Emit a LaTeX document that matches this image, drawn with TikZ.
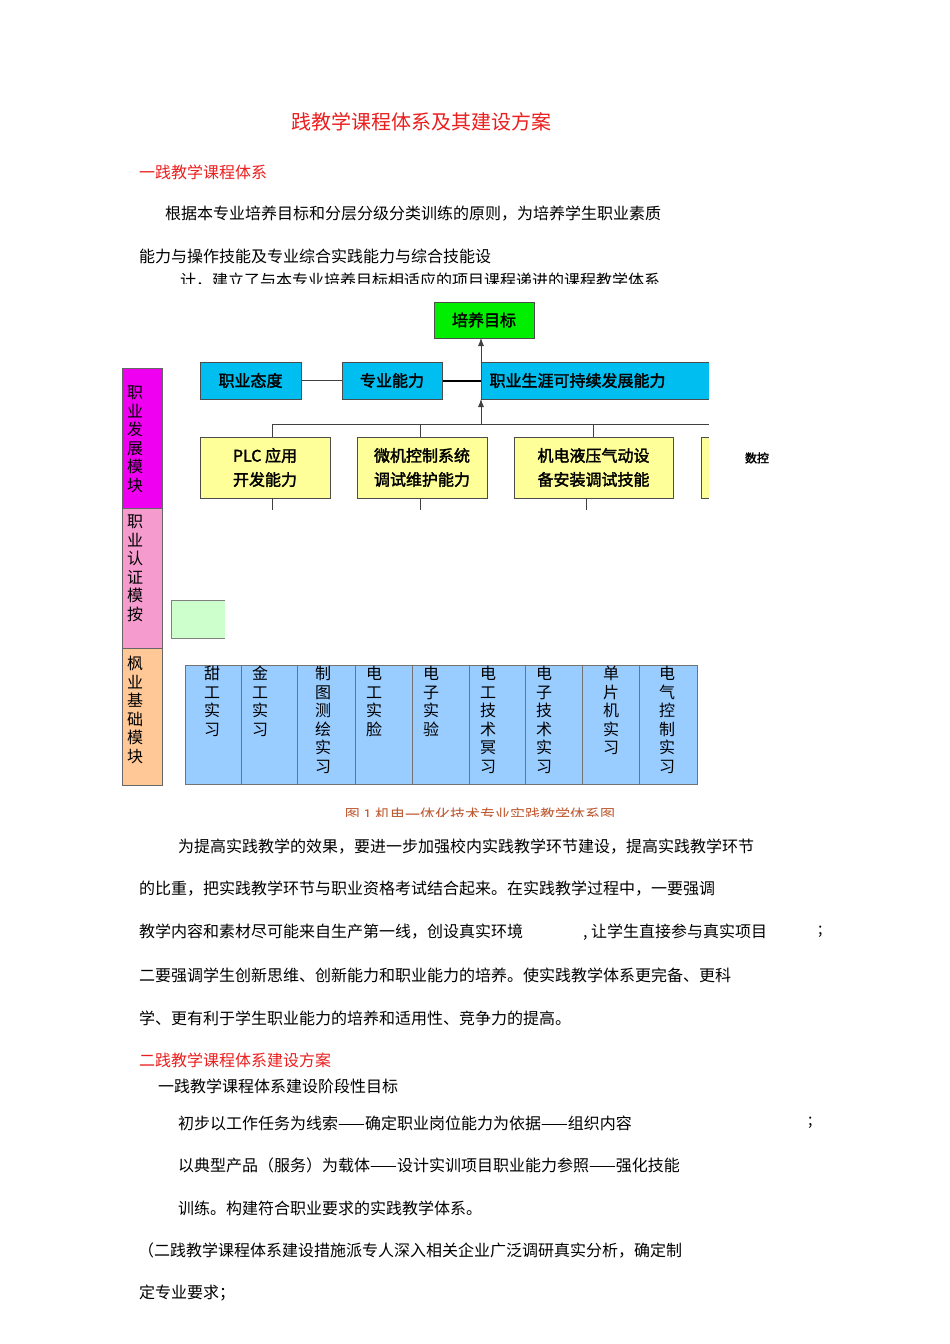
\documentclass[tikz,border=0pt]{standalone}
\usepackage{fontspec}
\usetikzlibrary{arrows.meta}
\setmainfont{Noto Sans CJK SC}
\newfontfamily\cjk{Noto Sans CJK SC}
\newfontfamily\cjkb[FakeBold=2]{Noto Sans CJK SC}
\definecolor{cred}{RGB}{235,30,30}
\definecolor{cgreen}{RGB}{0,238,0}
\definecolor{cblue}{RGB}{0,190,240}
\definecolor{cyel}{RGB}{255,255,153}
\definecolor{cmag}{RGB}{240,0,240}
\definecolor{cpink}{RGB}{245,155,205}
\definecolor{corange}{RGB}{255,200,150}
\definecolor{clgreen}{RGB}{204,255,204}
\definecolor{ctab}{RGB}{153,204,255}
\definecolor{ccap}{RGB}{190,90,50}
\begin{document}
\begin{tikzpicture}[x=1pt,y=-1pt,
  txt/.style={anchor=west,inner sep=0pt,font=\cjk\fontsize{16}{16}\selectfont},
  red/.style={txt,text=cred},
  box/.style={draw=black!70,line width=1pt,font=\cjkb\fontsize{16}{24}\selectfont,align=center,inner sep=0pt},
  vt/.style={anchor=north,inner sep=0pt,align=center,font=\cjk\fontsize{16}{18.5}\selectfont},
  conn/.style={draw=black!75,line width=0.8pt},
  arr/.style={conn,-{Latex[length=8pt,width=6pt]}}]
\fill[white] (0,0) rectangle (950,1344);
\useasboundingbox (0,0) rectangle (950,1344);
% text above
\node[red,anchor=center,font=\cjk\fontsize{20}{20}\selectfont] (title) at (421,122) {践教学课程体系及其建设方案};
\node[red] (s1) at (139,172) {一践教学课程体系};
\node[txt] (p1) at (165,214) {根据本专业培养目标和分层分级分类训练的原则，为培养学生职业素质};
\node[txt] (p2) at (139,256) {能力与操作技能及专业综合实践能力与综合技能设};
\begin{scope}
\clip (0,268) rectangle (950,283);
\node[txt] (p3) at (180,281) {计，建立了与本专业培养目标相适应的项目课程递进的课程教学体系};
\end{scope}
% diagram
\node[box,fill=cgreen,minimum width=100pt,minimum height=36pt] (goal) at (484,320) {培养目标};
\node[box,fill=cblue,minimum width=101pt,minimum height=37pt] (att) at (250.5,380.5) {职业态度};
\node[box,fill=cblue,minimum width=100pt,minimum height=37pt] (pro) at (392,380.5) {专业能力};
\fill[cblue] (481,362) rectangle (709,399);
\draw[black!70,line width=1pt] (709,362) -- (481,362) -- (481,399) -- (709,399);
\node[font=\cjkb\fontsize{16}{17}\selectfont,anchor=west] (car) at (486,380.5) {职业生涯可持续发展能力};
\coordinate (carL) at (481,380.5);
\coordinate (carT) at (481,362);
\coordinate (carB) at (481,399);
\draw[conn] (att) -- (pro);
\draw[black,line width=2pt] (pro) -- (carL);
\draw[arr] (carT) -- (481,338);
\coordinate (bar) at (481,424);
\draw[arr] (bar) -- (carB);
\draw[conn] (272,424) -- (709,424);
\tikzset{yb/.style={box,fill=cyel,minimum height=61pt}}
\node[yb,minimum width=130pt] (y1) at (265,467.5) {PLC 应用\\开发能力};
\node[yb,minimum width=130pt] (y2) at (422,467.5) {微机控制系统\\调试维护能力};
\node[yb,minimum width=159pt] (y3) at (593.5,467.5) {机电液压气动设\\备安装调试技能};
\fill[cyel] (701,437) rectangle (709,498);
\draw[black!70,line width=1pt] (709,437) -- (701,437) -- (701,498) -- (709,498);
\node[font=\cjkb\fontsize{12}{12}\selectfont] (nc) at (757,458) {数控};
\draw[conn] (272,424) -- (272,437);
\draw[conn] (420,424) -- (420,437);
\draw[conn] (593,424) -- (593,437);
\draw[conn] (272,498) -- (272,510);
\draw[conn] (420,498) -- (420,510);
\draw[conn] (586,498) -- (586,510);
% left module bars
\node[draw=black!60,fill=cmag,minimum width=40pt,minimum height=140pt,inner sep=0pt] (m1) at (142,438) {};
\node[vt] at (135,386) {职\\业\\发\\展\\模\\块};
\node[draw=black!60,fill=cpink,minimum width=40pt,minimum height=140pt,inner sep=0pt] (m2) at (142,578) {};
\node[vt] at (135,515) {职\\业\\认\\证\\模\\按};
\node[draw=black!60,fill=corange,minimum width=40pt,minimum height=137pt,inner sep=0pt] (m3) at (142,716.5) {};
\node[vt] at (135,656) {枫\\业\\基\\础\\模\\块};
% light green box
\fill[clgreen] (171,600) rectangle (225,638);
\draw[black!50,line width=1pt] (225,600) -- (171,600) -- (171,638) -- (225,638);
% blue table
\fill[ctab] (185,665) rectangle (697,784);
\draw[black!55,line width=0.8pt] (185,665) rectangle (697,784);
\foreach \x in {241,297,355,412,469,525,582,639} \draw[black!55,line width=0.8pt] (\x,665) -- (\x,784);
\node[vt] at (212,666) {甜\\工\\实\\习};
\node[vt] at (260,666) {金\\工\\实\\习};
\node[vt] at (323,666) {制\\图\\测\\绘\\实\\习};
\node[vt] at (374,666) {电\\工\\实\\脸};
\node[vt] at (431,666) {电\\子\\实\\验};
\node[vt] at (488,666) {电\\工\\技\\术\\冥\\习};
\node[vt] at (544,666) {电\\子\\技\\术\\实\\习};
\node[vt] at (611,666) {单\\片\\机\\实\\习};
\node[vt] at (667,666) {电\\气\\控\\制\\实\\习};
\begin{scope}
\clip (0,800) rectangle (950,816);
\node[inner sep=0pt,text=ccap,font=\cjk\fontsize{15}{15}\selectfont] (cap) at (480,815) {图 1 机电一体化技术专业实践教学体系图};
\end{scope}
% text below
\node[txt] at (178,847) {为提高实践教学的效果，要进一步加强校内实践教学环节建设，提高实践教学环节};
\node[txt] at (139,889) {的比重，把实践教学环节与职业资格考试结合起来。在实践教学过程中，一要强调};
\node[txt] at (139,932) {教学内容和素材尽可能来自生产第一线，创设真实环境};
\node[txt] at (583,932) {, 让学生直接参与真实项目};
\node[txt] at (818,932) {;};
\node[txt] at (139,975) {二要强调学生创新思维、创新能力和职业能力的培养。使实践教学体系更完备、更科};
\node[txt] at (139,1018) {学、更有利于学生职业能力的培养和适用性、竞争力的提高。};
\node[red] at (139,1060) {二践教学课程体系建设方案};
\node[txt] at (158,1086) {一践教学课程体系建设阶段性目标};
\node[txt] at (178,1123) {初步以工作任务为线索——确定职业岗位能力为依据——组织内容};
\node[txt] at (808,1123) {;};
\node[txt] at (178,1165) {以典型产品（服务）为载体——设计实训项目职业能力参照——强化技能};
\node[txt] at (178,1208) {训练。构建符合职业要求的实践教学体系。};
\node[txt] at (138,1250) {（二践教学课程体系建设措施派专人深入相关企业广泛调研真实分析，确定制};
\node[txt] at (139,1293) {定专业要求；};
\end{tikzpicture}
\end{document}
